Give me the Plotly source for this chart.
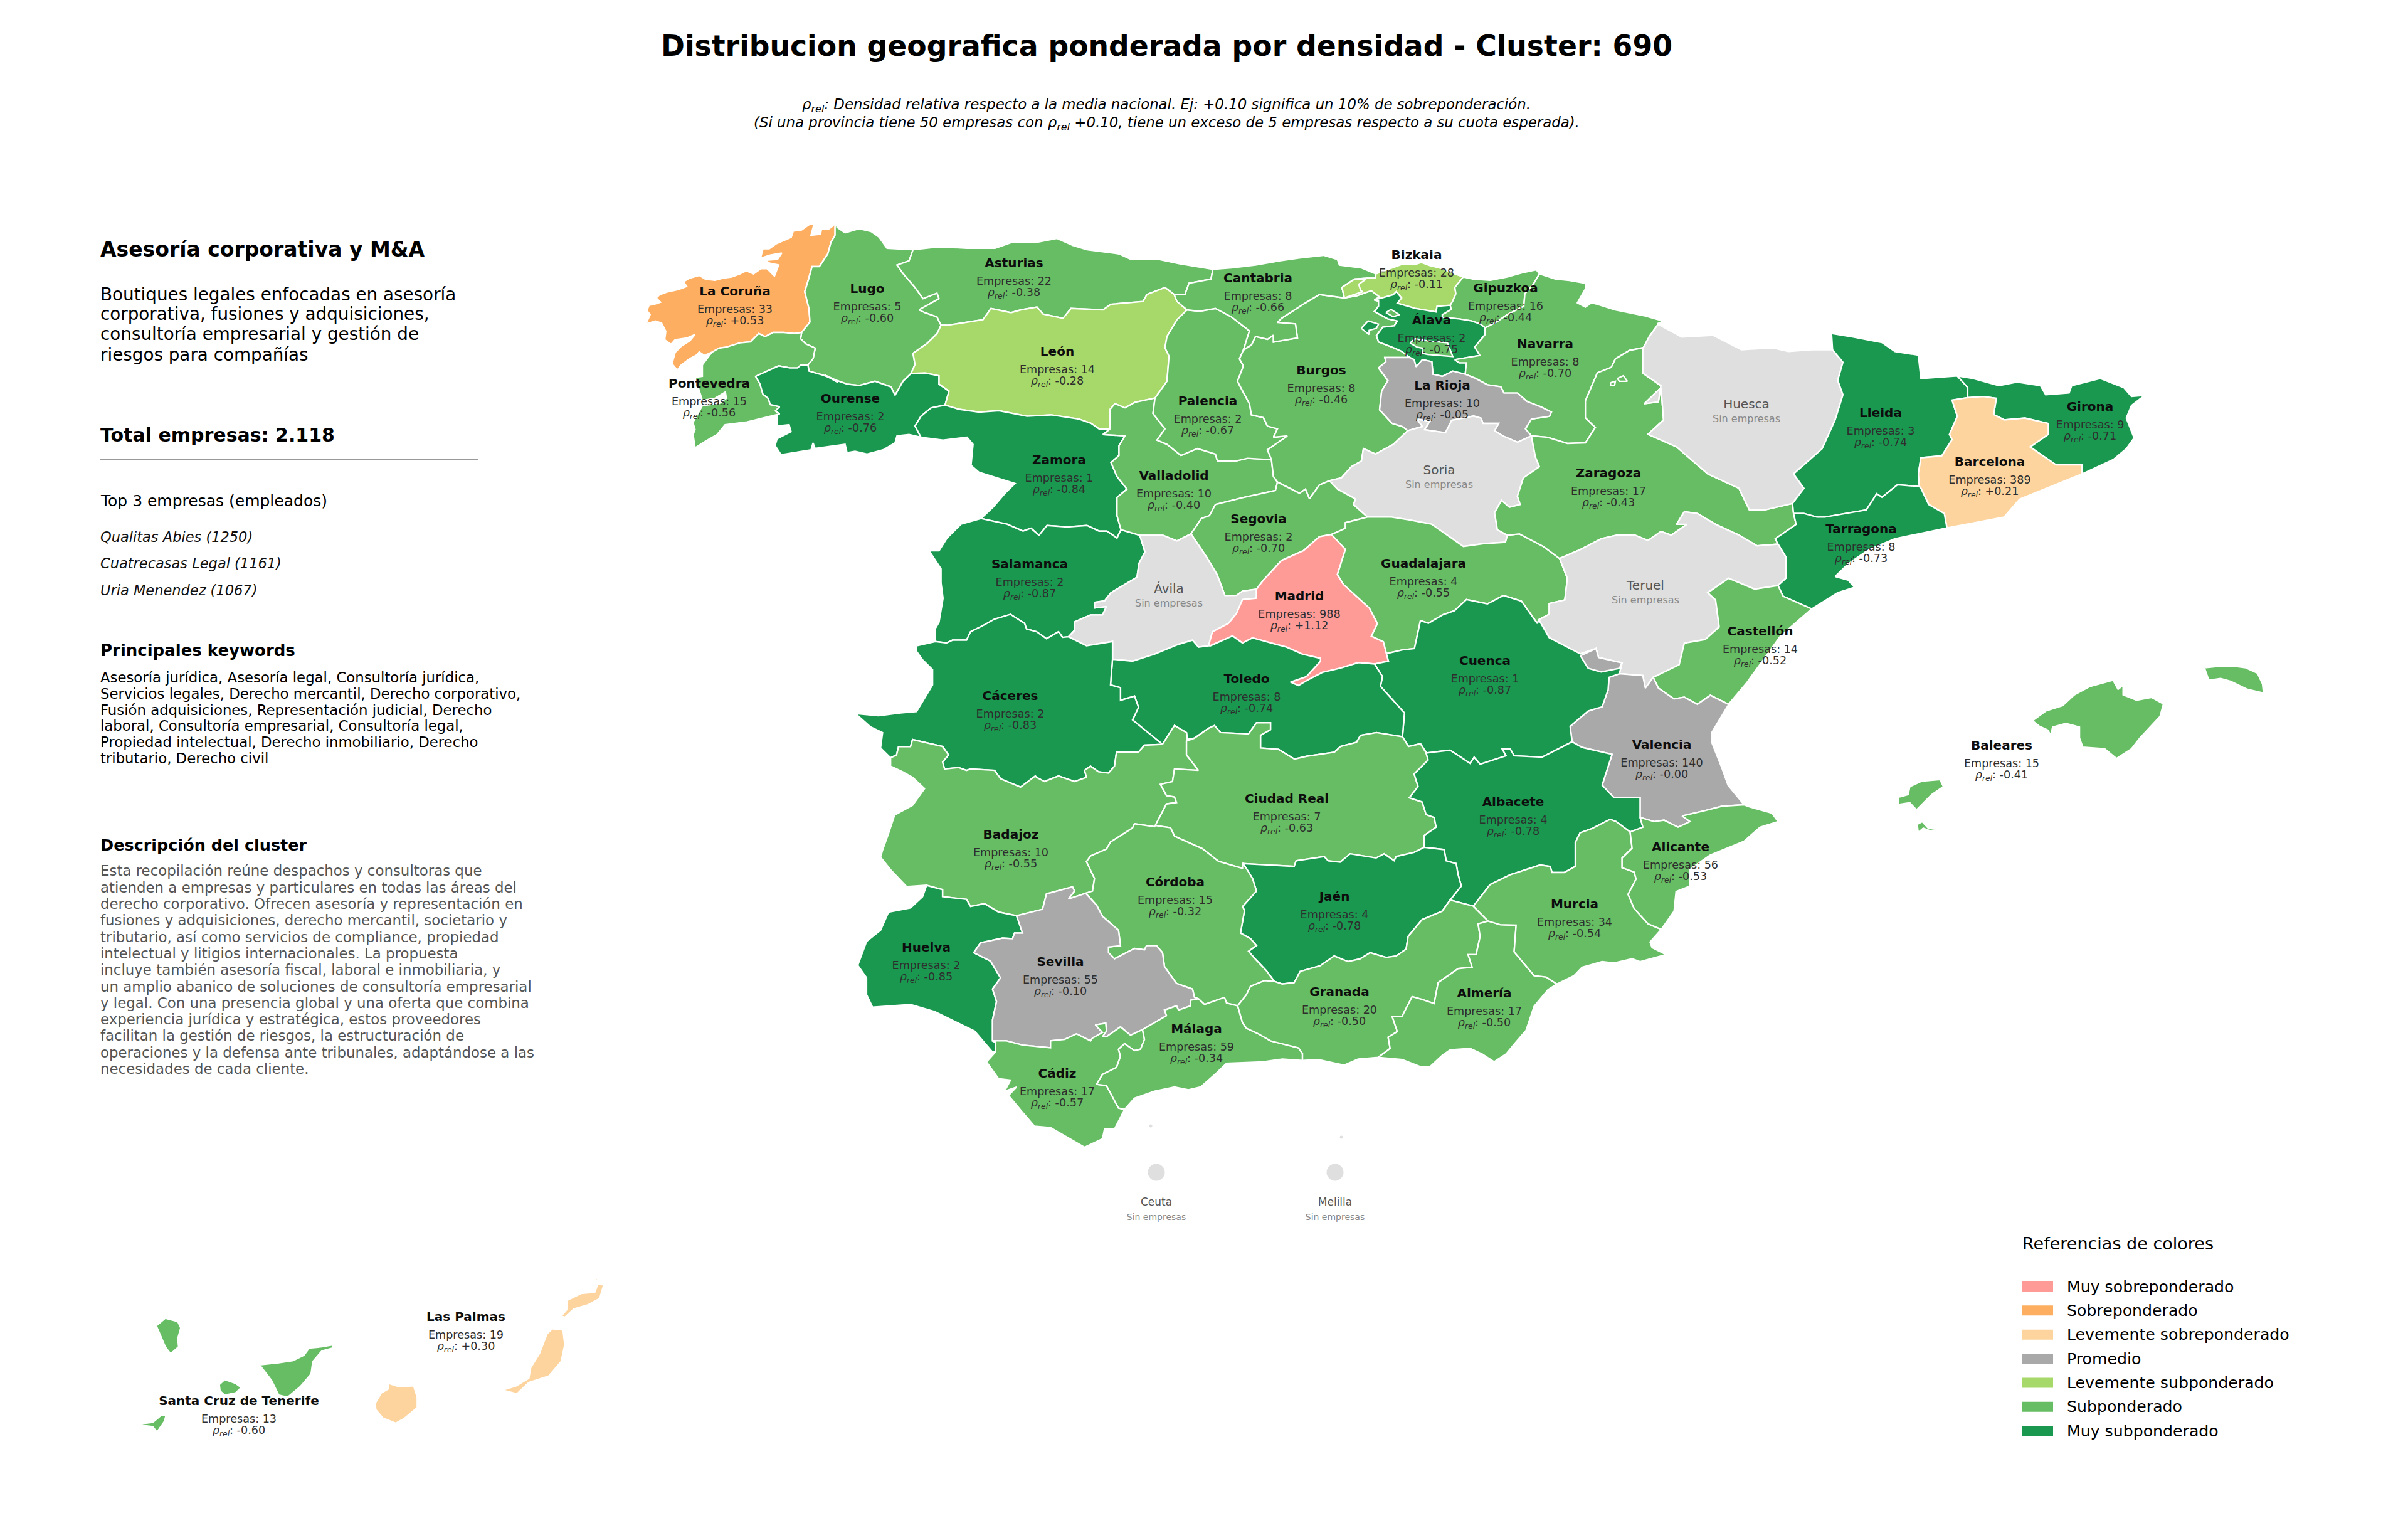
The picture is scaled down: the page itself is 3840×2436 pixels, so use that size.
import plotly.graph_objects as go

def crop(x0, y0, w, h):
    def read(*v):
        return [(x0 + v[i] * w / 1568, y0 + v[i + 1] * h / 1568) for i in range(0, len(v), 2)]
    return read

a = crop(1000, 340, 1000, 700)
b = crop(1900, 340, 1000, 700)
c = crop(2400, 480, 1300, 900)
d = crop(1350, 900, 1000, 700)
e = crop(1350, 1300, 1000, 700)
f = crop(2000, 1100, 1000, 700)
k = crop(100, 1300, 900, 1050)
l = crop(3000, 1000, 840, 1350)
m = crop(1020, 345, 1568 / 3, 1568 / 3)
n = crop(2120, 400, 1568 / 3, 1568 / 3)

# Datos
PROVINCIAS = ["La Coruña", "Lugo", "Asturias", "Cantabria", "Bizkaia", "Gipuzkoa", "Álava", "Navarra", "La Rioja",
              "Burgos", "León", "Pontevedra", "Ourense", "Palencia", "Zamora", "Valladolid", "Segovia", "Soria",
              "Huesca", "Lleida", "Girona", "Barcelona", "Zaragoza", "Tarragona", "Salamanca", "Ávila", "Madrid",
              "Guadalajara", "Teruel", "Castellón", "Cáceres", "Toledo", "Cuenca", "Valencia", "Baleares",
              "Ciudad Real", "Albacete", "Badajoz", "Córdoba", "Jaén", "Alicante", "Murcia", "Huelva", "Sevilla",
              "Granada", "Almería", "Málaga", "Cádiz", "Las Palmas", "Santa Cruz de Tenerife"]
EMPRESAS = [33, 5, 22, 8, 28, 16, 2, 8, 10,
            8, 14, 15, 2, 2, 1, 10, 2, None,
            None, 3, 9, 389, 17, 8, 2, None, 988,
            4, None, 14, 2, 8, 1, 140, 15,
            7, 4, 10, 15, 4, 56, 34, 2, 55,
            20, 17, 59, 17, 19, 13]
RHO = ["+0.53", "-0.60", "-0.38", "-0.66", "-0.11", "-0.44", "-0.75", "-0.70", "-0.05",
       "-0.46", "-0.28", "-0.56", "-0.76", "-0.67", "-0.84", "-0.40", "-0.70", None,
       None, "-0.74", "-0.71", "+0.21", "-0.43", "-0.73", "-0.87", None, "+1.12",
       "-0.55", None, "-0.52", "-0.83", "-0.74", "-0.87", "-0.00", "-0.41",
       "-0.63", "-0.78", "-0.55", "-0.32", "-0.78", "-0.53", "-0.54", "-0.85", "-0.10",
       "-0.50", "-0.50", "-0.34", "-0.57", "+0.30", "-0.60"]
LABEL_X = [1172, 1383, 1617, 2006, 2259, 2401, 2283, 2464, 2300,
           2107, 1686, 1131, 1356, 1926, 1689, 1872, 2007, 2295,
           2785, 2999, 3333, 3173, 2565, 2968, 1642, 1864, 2072,
           2270, 2624, 2807, 1611, 1988, 2368, 2650, 3192,
           2052, 2413, 1612, 1874, 2128, 2680, 2511, 1477, 1691,
           2136, 2367, 1908, 1686, 743, 381]
LABEL_Y = [466, 462, 421, 445, 408, 461, 512, 550, 616,
           592, 562, 613, 637, 641, 735, 760, 829, 751,
           646, 660, 650, 738, 756, 845, 901, 940, 952,
           900, 935, 1008, 1111, 1084, 1055, 1189, 1190,
           1275, 1280, 1332, 1408, 1431, 1352, 1443, 1512, 1535,
           1583, 1585, 1642, 1713, 2101, 2235]
SIN_DATOS_PEQ = ["Ceuta", "Melilla"]
PEQ_X = [1844, 2129]
PEQ_Y = [1869, 1869]
PEQ_LABEL_Y = [1918, 1918]
PEQ_REAL_X = [1835, 2139]
PEQ_REAL_Y = [1795, 1813]

CATEGORIAS = ["Muy sobreponderado", "Sobreponderado", "Levemente sobreponderado", "Promedio",
              "Levemente subponderado", "Subponderado", "Muy subponderado"]
COLORES = ["#FF9B97", "#FDAE61", "#FDD49E", "#A9A9A9", "#A6D96A", "#66BD63", "#1A9850"]
SIN_EMPRESAS = "#DFDFDF"

TITULO = "Distribucion geografica ponderada por densidad - Cluster: 690"
NOTA = ["<i>ρ<sub>rel</sub>: Densidad relativa respecto a la media nacional. Ej: +0.10 significa un 10% de sobreponderación.</i>",
        "<i>(Si una provincia tiene 50 empresas con ρ<sub>rel</sub> +0.10, tiene un exceso de 5 empresas respecto a su cuota esperada).</i>"]
CLUSTER = "Asesoría corporativa y M&A"
RESUMEN = ["Boutiques legales enfocadas en asesoría", "corporativa, fusiones y adquisiciones,",
           "consultoría empresarial y gestión de", "riesgos para compañías"]
TOTAL = "Total empresas: 2.118"
TOP = ["Qualitas Abies (1250)", "Cuatrecasas Legal (1161)", "Uria Menendez (1067)"]
KEYWORDS = ["Asesoría jurídica, Asesoría legal, Consultoría jurídica,",
            "Servicios legales, Derecho mercantil, Derecho corporativo,",
            "Fusión adquisiciones, Representación judicial, Derecho",
            "laboral, Consultoría empresarial, Consultoría legal,",
            "Propiedad intelectual, Derecho inmobiliario, Derecho",
            "tributario, Derecho civil"]
DESCRIPCION = ["Esta recopilación reúne despachos y consultoras que",
               "atienden a empresas y particulares en todas las áreas del",
               "derecho corporativo. Ofrecen asesoría y representación en",
               "fusiones y adquisiciones, derecho mercantil, societario y",
               "tributario, así como servicios de compliance, propiedad",
               "intelectual y litigios internacionales. La propuesta",
               "incluye también asesoría fiscal, laboral e inmobiliaria, y",
               "un amplio abanico de soluciones de consultoría empresarial",
               "y legal. Con una presencia global y una oferta que combina",
               "experiencia jurídica y estratégica, estos proveedores",
               "facilitan la gestión de riesgos, la estructuración de",
               "operaciones y la defensa ante tribunales, adaptándose a las",
               "necesidades de cada cliente."]

# Tramos de frontera compartidos entre provincias
ARCS = {
    "lc_coast": m(945,30, 925,45, 905,60, 870,62, 865,85, 820,90, 835,35, 810,40, 775,65, 735,70, 725,100, 690,115, 655,130, 620,155, 590,155, 578,200, 625,185, 680,175, 660,205, 600,210, 625,225, 665,232, 645,285, 610,250, 580,250, 545,275, 510,260, 480,275, 440,290, 400,295, 360,305, 315,300, 285,282, 240,295, 210,312, 225,335, 185,350, 130,362, 95,375, 80,390, 100,410, 70,420, 45,425, 35,450, 50,470, 30,515, 75,500, 105,510, 125,550, 120,590, 150,612, 170,590, 225,582, 265,565, 240,595, 200,620, 170,650, 155,705, 180,735, 200,710, 240,680, 270,665, 285,648, 310,665, 345,650),
    "lc_pon": m(345,650, 380,630, 415,625, 480,605, 530,600, 570,560, 600,575, 640,555, 690,555, 740,560, 775,555),
    "lc_lu": m(775,555, 815,505, 810,440, 790,360, 810,295, 825,240, 860,240, 900,180, 915,125, 935,90, 935,50, 945,30),
    "pon_coast": m(345,650, 300,710, 300,765, 265,770, 270,785, 290,850, 300,880, 360,870, 410,840, 415,870, 380,895, 300,905, 255,985, 265,1020) + a(165,790, 170,838, 195,815, 225,790, 245,755, 300,745, 345,730, 375,720),
    "pon_ou": a(375,720) + m(670,945, 650,930, 670,910, 625,900, 615,870, 590,850, 575,800, 555,765, 620,735, 665,715, 720,725, 755,725, 770,712, 805,710),
    "pon_lu": m(805,710, 830,680, 840,630, 795,610, 770,585, 775,555),
    "ou_port": a(375,720, 375,760, 405,755, 410,780, 375,805, 370,830, 385,862, 460,845, 465,820, 470,840, 545,825, 550,855, 570,850, 600,860, 640,845, 670,820, 675,795, 705,790, 735,800),
    "ou_za": a(735,800, 720,760, 735,725, 760,695, 795,685),
    "ou_le": a(795,685, 805,635, 780,610, 780,580, 745,570, 710,572),
    "lu_ou": a(710,572, 690,600, 670,650, 660,620, 620,600, 580,615, 550,610, 520,595, 495,578) + m(950,795, 905,770, 880,760, 810,740, 805,710),
    "lu_le": a(710,572, 720,540, 715,500, 750,465, 775,430, 785,400),
    "lu_ast": a(785,400, 775,370, 745,355, 730,345, 780,305, 775,285, 740,305, 720,265, 690,215, 675,185, 705,170, 715,130),
    "lu_coast": a(715,130, 650,125, 630,85, 610,65, 580,55, 545,70, 525,50) + m(945,30),
    "ast_coast": a(715,130, 780,120, 850,125, 920,125, 960,105, 1020,105, 1075,90, 1115,115, 1150,130, 1230,145, 1260,165, 1330,165, 1380,180, 1440,195, 1465,200),
    "ast_can": a(1465,200, 1460,235, 1405,250, 1395,290, 1368,290),
    "ast_le": a(1368,290, 1345,265, 1300,290, 1290,315, 1210,325, 1190,345, 1110,340, 1090,375, 1040,360, 1025,335, 985,345, 960,355, 910,340, 890,380, 800,400, 785,400),
    "can_le": a(1368,290, 1375,315, 1400,345),
    "le_pal": a(1400,345, 1375,380, 1350,440, 1345,480, 1355,510, 1350,600, 1320,660),
    "le_vall": a(1320,660, 1270,675, 1245,695, 1220,680, 1208,700, 1208,770),
    "le_za": a(1208,770, 1180,770, 1160,750, 1130,735, 1060,720, 1000,725, 930,705, 880,710, 830,700, 795,685),
    "za_port": a(735,800, 790,810, 850,800, 865,825, 860,900, 880,925, 970,965, 945,1000, 915,1050, 885,1090),
    "za_sal": a(885,1090, 950,1110, 990,1135, 1010,1125, 1030,1150, 1050,1115, 1100,1120, 1150,1115, 1180,1135, 1200,1135, 1225,1160, 1235,1130),
    "za_vall": a(1208,770, 1190,790, 1245,795, 1230,830, 1230,865, 1210,890, 1225,940, 1250,985, 1225,1015, 1225,1080, 1235,1130),
    "sal_vall": a(1235,1130, 1282,1150),
    "sal_av": a(1282,1150, 1295,1210, 1280,1250, 1275,1300, 1210,1355) + d(645,130, 620,135, 620,155, 650,150, 640,180, 610,180, 570,205, 570,235, 555,258),
    "sal_cac": d(555,258, 540,260, 530,240, 500,265, 475,240, 450,230, 445,210, 410,178, 370,195, 345,215, 310,240, 300,270, 265,270, 250,280, 222,275),
    "sal_port": d(222,275) + a(770,1485, 780,1460, 790,1375, 785,1320, 785,1270, 755,1205, 780,1205, 800,1160, 835,1110, 885,1090),
    "av_vall": a(1282,1150, 1340,1150, 1375,1170, 1410,1145),
    "av_seg": a(1410,1145, 1450,1230, 1475,1290, 1495,1365) + d(975,110, 990,95, 1025,88),
    "av_mad": d(905,290, 915,240, 955,210, 975,175, 990,125, 1025,120, 1025,88),
    "av_tol": d(665,338, 715,345, 770,320, 830,285, 865,270, 880,295, 905,290),
    "av_cac": d(555,258, 600,290, 665,275, 665,338),
    "mad_seg": d(1025,88) + b(180,1310, 225,1240, 280,1205, 320,1155, 350,1147),
    "gu_mad": b(350,1147, 385,1200, 365,1290, 380,1325, 410,1365, 445,1410, 465,1465, 450,1510, 480,1530) + d(1350,318),
    "mad_cu": d(1350,318, 1355,345, 1320,355),
    "mad_tol": d(1320,355, 1280,350, 1235,370, 1190,385, 1150,415, 1130,432, 1110,420, 1150,400, 1185,345, 1185,335, 1140,320, 1100,295, 1060,280, 1015,262, 990,280, 965,255, 910,290, 905,290),
    "gu_cu": d(1350,318, 1390,305, 1420,300, 1435,200, 1455,210, 1490,180, 1520,165, 1550,125) + b(740,1395, 780,1365, 825,1385, 865,1465),
    "gu_te": c(105,715, 120,770, 115,830, 85,840, 85,870, 65,885),
    "gu_zar": c(105,715) + b(880,1190, 820,1145, 790,1150),
    "gu_so": b(790,1150, 785,1175, 730,1180, 680,1190, 640,1150, 600,1110, 545,1095, 500,1085, 440,1085),
    "gu_seg": b(440,1085, 385,1105, 385,1125, 350,1147),
    "seg_vall": a(1410,1145) + b(25,1090, 45,1080, 60,1040, 130,1015, 210,990, 215,960),
    "seg_bur": b(215,960, 270,1000, 285,985, 295,1020, 320,970, 345,955),
    "seg_so": b(345,955, 365,985, 410,1020, 405,1040, 440,1085),
    "bur_so": b(345,955, 375,945, 400,905, 425,885, 430,840, 460,860, 505,825) + n(375,860),
    "so_ri": n(375,860, 445,840, 420,805, 480,815, 455,855, 555,870, 585,810, 690,790, 725,800, 735,825, 810,825, 790,860, 830,885, 900,915) + b(850,795),
    "so_zar": b(850,795, 860,870, 870,905, 830,945, 815,1010, 822,1040, 795,1050, 775,1025, 758,1070, 765,1130, 790,1150),
    "bur_ri": n(375,860, 350,840, 300,825, 240,760, 250,670, 280,620, 235,560, 270,530, 265,510, 385,510),
    "al_ri": n(385,510, 405,520, 415,555, 445,520, 490,530, 495,590, 540,600, 590,575, 650,590),
    "ri_nav": n(650,590, 700,610, 755,640, 820,650, 835,680, 900,680, 945,720, 1010,745) + b(900,710, 895,725, 850,735, 835,770, 850,795),
    "nav_zar": b(850,795, 890,800, 940,822, 985,820, 1010,765, 985,730, 985,670, 1015,570, 1050,550, 1060,520, 1095,490, 1130,480),
    "nav_hu": b(1130,480, 1145,440, 1165,400, 1180,385),
    "nav_coast": n(1005,110) + b(910,235, 945,240, 985,250, 985,270, 965,320, 985,335, 1000,320, 1015,325, 1060,345, 1130,365, 1180,385),
    "gip_coast": n(640,125, 690,135, 770,140, 850,125, 920,105, 990,90, 1005,110),
    "gip_nav": n(745,368, 800,340, 850,305, 930,265, 935,205, 975,160, 1005,110),
    "gip_al": n(578,260, 582,280, 540,305, 540,318, 620,325, 680,335, 722,350, 745,368),
    "gip_biz": n(578,260, 590,240, 605,205, 600,175, 640,125),
    "biz_coast": n(640,125, 600,110, 540,85, 480,70, 440,55, 410,65, 345,65, 290,85, 222,110),
    "biz_can": n(222,110, 220,130, 180,130, 120,135, 60,175, 72,225),
    "biz_bur": n(72,225, 130,215, 200,190, 240,220, 215,235),
    "biz_al": n(215,235, 305,210, 320,195, 345,225, 325,250, 410,275, 510,292, 515,265, 578,260),
    "bur_al": n(385,510, 345,480, 300,460, 235,435, 225,405, 255,365, 310,358, 325,335, 280,325, 215,290, 235,265, 235,240, 215,235),
    "al_nav": n(745,368, 745,400, 720,430, 695,460, 720,500, 660,510, 600,520, 620,535, 655,535, 650,590),
    "can_coast": a(1465,200) + b(100,195, 160,185, 220,170, 270,160, 330,150, 365,165, 370,185, 425,195) + n(222,110),
    "can_bur": n(72,225) + b(320,290, 285,320, 225,375, 215,390, 260,395, 265,445, 205,460, 205,435, 190,450, 160,440, 150,470, 130,488),
    "can_pal": b(130,488, 145,420, 100,370, 60,340, 20,350) + a(1400,345),
    "bur_pal": b(130,488, 120,520, 130,545, 115,600, 145,680, 150,720, 180,730, 190,760, 215,770, 205,800, 240,795, 190,845, 200,880),
    "bur_vall": b(200,880, 205,940, 215,960),
    "pal_vall": b(200,880, 140,875, 110,885, 65,885, 60,860, 15,840) + a(1385,865, 1350,825, 1325,810, 1345,770, 1315,715, 1320,660),
    "zar_hu": c(553,562, 500,580, 470,580, 450,520, 390,480, 330,405, 275,370, 305,330, 300,240, 268,285, 295,280, 300,235, 265,200, 265,140) + b(1130,480),
    "hu_north": c(293,63, 340,100, 400,95, 455,135, 515,130, 545,140, 590,135, 630,135),
    "hu_lle": c(630,135, 650,170, 640,220, 650,260, 635,330, 610,410, 555,480, 575,520, 553,562),
    "lle_north": c(630,135, 628,90, 670,100, 725,115, 750,140, 795,150, 800,215, 860,210, 870,208),
    "lle_gi": c(870,208, 890,240, 890,268),
    "lle_ba": c(890,268, 860,275, 870,320, 855,370, 860,385, 840,430, 800,435, 795,480, 797,515),
    "lle_tar": c(797,515, 755,510, 725,545, 715,535, 695,580, 615,600, 600,600, 575,590, 555,590),
    "zar_lle": c(553,562, 555,590),
    "zar_tar": c(555,590, 560,620, 520,660, 525,675),
    "zar_te": c(525,675, 485,680, 450,650, 405,620, 370,590, 345,585, 330,620, 350,620, 320,650, 300,640, 275,665, 250,650, 215,650, 185,660, 145,690, 105,715),
    "te_cu": c(65,885, 85,935, 145,980, 175,965, 180,990, 225,1005, 220,1035),
    "te_val": c(220,1035, 265,1040, 270,1075, 285,1045),
    "te_cas": c(285,1045, 335,1010, 345,950, 385,940, 412,905, 405,830, 390,810, 430,770, 480,800, 525,790),
    "te_tar": c(525,790, 540,770, 540,710, 525,675),
    "cas_val": c(285,1045, 295,1075, 325,1105, 345,1100, 370,1120, 395,1095, 430,1120),
    "cas_coast": c(430,1120, 465,1060, 495,1000, 530,930, 590,855),
    "tar_cas": c(590,855, 535,820, 525,790),
    "tar_coast": c(590,855, 640,810, 672,795, 660,775, 635,765, 660,730, 700,690, 750,660, 800,645, 850,630),
    "ba_tar": c(850,630, 845,590, 815,565, 800,520, 797,515),
    "ba_coast": c(850,630, 960,600, 990,550, 1050,515, 1110,480),
    "ba_gi": c(1110,480, 1110,455, 1060,455, 1020,415, 1010,405, 1045,370, 1045,340, 1000,325, 960,330, 940,315, 945,270, 920,265, 890,268),
    "gi_coast": c(870,208, 900,215, 950,235, 985,225, 1030,235, 1040,260, 1085,255, 1090,235, 1145,215, 1190,240, 1205,265, 1230,262, 1205,290, 1195,325, 1210,380, 1195,410, 1170,440, 1110,480),
    "tol_cu": d(1320,355, 1340,400, 1335,435, 1370,490, 1395,530, 1390,615),
    "cu_cr": d(1390,615, 1405,650, 1435,640, 1450,672),
    "cu_alb": f(430,225, 490,215, 540,262, 550,240, 565,265, 630,235, 620,210, 640,210, 650,235, 720,240, 795,185),
    "cu_val": f(795,185, 790,130, 835,75, 870,60, 885,0) + c(200,1045, 220,1035),
    "alb_val": f(795,185, 820,205, 895,230, 870,340, 900,385, 965,385, 965,455),
    "alb_alic": f(965,455, 972,490, 940,507),
    "alb_mur": f(940,507, 905,470, 890,462, 845,495, 815,510, 803,545, 803,630, 775,652, 745,652, 740,630, 715,625, 640,660, 590,695, 548,772),
    "alb_gra": f(548,772, 490,750),
    "alb_ja": f(490,750, 518,700, 510,660, 505,620, 480,610, 475,570, 425,562),
    "alb_cr": f(425,562, 425,520, 455,490, 450,455, 430,445, 420,400, 388,385, 410,345, 400,300, 435,250, 430,225),
    "cr_ja": f(425,562, 400,580, 355,595, 350,610, 325,585, 305,600, 240,585, 215,615, 185,610, 175,595, 105,610, 100,630) + d(990,1068),
    "cr_cor": d(990,1068, 990,1085, 930,1060, 890,1015, 820,970, 810,940, 772,932),
    "bad_cr": d(772,932, 800,855, 825,850, 820,830, 800,825, 785,785, 815,775, 820,730, 880,735, 850,680, 850,630, 870,620),
    "tol_cr": d(870,620, 905,585, 920,575, 935,600, 1005,605, 1025,565, 1060,565, 1060,590, 1035,610, 1035,655, 1080,660, 1120,695, 1150,685, 1220,670, 1235,650, 1275,635, 1285,610, 1325,600, 1390,615),
    "tol_bad": d(870,620, 852,625, 850,600, 820,575, 790,642),
    "tol_cac": d(665,338, 660,430, 685,440, 685,485, 720,470, 730,510, 715,555, 790,642),
    "cac_bad": d(790,642, 745,645, 730,670, 675,670, 670,720, 655,745, 630,740, 610,720, 595,735, 600,760, 570,775, 530,755, 495,775, 475,760, 472,755, 435,795, 385,765, 370,735, 310,730, 300,735, 280,725, 245,730, 240,705, 255,680, 240,650, 165,625, 160,650, 130,650, 125,680, 110,690),
    "cac_port": d(110,690, 85,655, 90,600, 60,580, 22,532, 80,540, 135,530, 175,525, 215,430, 215,375, 190,340, 175,310, 175,290, 222,275),
    "bad_port": d(110,690, 110,720, 140,740, 165,760, 195,800, 165,860, 120,895, 105,960, 90,1020, 85,1045, 110,1090, 150,1150, 200,1145),
    "bad_hu": e(200,250, 240,265, 240,290, 300,300, 310,325, 345,315, 380,345, 425,358),
    "bad_sev": e(425,358, 490,335, 500,280, 565,255, 570,270, 555,298, 598,278),
    "bad_cor": e(598,278, 615,270, 620,225, 600,165, 610,145, 650,120, 660,95, 715,45, 720,30, 770,40),
    "hu_coast": e(200,250, 190,290, 160,330, 105,345, 85,410, 50,450, 40,490, 28,535, 50,580, 50,640, 65,685, 160,675, 220,700, 320,770, 365,845, 372,845),
    "hu_cad": e(372,845, 372,810, 365,805),
    "hu_sev": e(365,805, 365,730, 375,665, 365,620, 385,580, 360,520, 318,490, 335,455, 390,438, 415,440, 420,420, 440,420, 430,375, 425,358),
    "sev_cor": e(598,278, 625,320, 640,360, 680,410, 685,465, 655,470, 655,490, 670,512, 720,475, 745,480, 750,465, 775,465, 790,490, 795,540, 825,600, 865,620, 870,650, 880,655),
    "sev_mal": e(880,655, 860,660, 860,680, 830,695, 825,680, 795,695, 800,715, 740,765),
    "sev_cad": e(740,765, 710,785, 685,755, 650,790, 640,790, 650,770, 648,742, 622,748, 640,775, 615,795, 610,805, 575,780, 545,800, 510,805, 510,830, 440,820, 400,805, 365,805),
    "cad_mal": e(740,765, 745,800, 735,835, 720,840, 695,815, 680,835, 685,860, 675,900, 640,925, 625,960, 650,965, 680,1045, 695,1050),
    "cad_coast": e(372,845, 350,880, 380,940, 410,945, 395,985, 425,970, 405,1000, 440,1060, 470,1110, 510,1115, 595,1185, 640,1155, 645,1120, 670,1120, 695,1050),
    "mal_coast": e(695,1050, 720,1010, 770,985, 820,970, 855,980, 885,970, 925,920, 950,885, 1040,880, 1090,870, 1140,875),
    "mal_gra": e(1140,875, 1140,850, 1130,830, 1060,805, 1030,780, 1000,760, 990,740, 978,680),
    "cor_mal": e(978,680, 950,670, 945,650, 925,660, 895,675, 880,655),
    "cor_gra": e(978,680, 1000,640, 1010,610, 1045,590, 1070,593),
    "cor_ja": e(1070,593, 1050,555, 1020,510, 1005,485, 1025,465, 1010,440, 985,420, 995,340, 990,325, 1025,270, 1015,225, 1000,190, 990,170),
    "ja_gra": f(490,750, 470,790, 420,820, 385,880, 380,925, 355,950, 330,955, 290,938, 265,960, 235,970, 200,950, 165,985, 115,1005, 100,1045, 70,1050) + e(1070,593),
    "gra_mur": f(548,772, 585,825),
    "gra_alm": f(585,825, 560,835, 565,880, 555,945, 535,945, 545,990, 510,995, 460,1045, 450,1120, 420,1105, 395,1095, 370,1165, 345,1165, 358,1220, 335,1240, 340,1280, 310,1312),
    "gra_coast": e(1140,875) + f(160,1320, 225,1340, 260,1318, 310,1312),
    "alm_coast": f(310,1312, 370,1320, 415,1345, 440,1345, 470,1305, 490,1285, 540,1280, 570,1300, 600,1328, 630,1300, 650,1265, 680,1215, 700,1130, 735,1070, 757,1050),
    "alm_mur": f(757,1050, 730,1025, 700,1020, 650,935, 655,840, 615,838, 585,825),
    "mur_coast": f(757,1050, 800,1020, 820,990, 870,970, 900,975, 945,960, 965,970, 1030,945, 995,920, 990,900, 1018,855),
    "mur_alic": f(1018,855, 985,835, 950,780, 935,730, 955,675, 950,650, 920,635, 920,600, 945,565, 940,507),
    "val_alic": f(965,455, 1000,470, 1025,465, 1060,490, 1090,470, 1070,450, 1130,430, 1170,415, 1225,410),
    "val_coast": f(1225,410, 1185,340, 1170,280, 1145,190, 1145,150, 1185,55) + c(430,1120),
    "alic_coast": f(1225,410, 1240,418, 1295,440, 1310,470, 1265,490, 1225,540, 1140,590, 1090,640, 1090,700, 1055,720, 1050,790, 1018,855),
}

RINGS = {
    "La Coruña": ["lc_coast", "lc_pon", "lc_lu"],
    "Lugo": ["lc_lu", "lu_coast", "lu_ast", "lu_le", "lu_ou", "pon_lu"],
    "Pontevedra": ["pon_coast", "pon_ou", "pon_lu", "lc_pon"],
    "Ourense": ["ou_port", "ou_za", "ou_le", "lu_ou", "pon_ou"],
    "Asturias": ["ast_coast", "ast_can", "ast_le", "lu_ast"],
    "León": ["ast_le", "lu_le", "ou_le", "le_za", "le_vall", "le_pal", "can_le"],
    "Zamora": ["ou_za", "za_port", "za_sal", "za_vall", "le_za"],
    "Salamanca": ["za_sal", "sal_vall", "sal_av", "sal_cac", "sal_port"],
    "Valladolid": ["le_vall", "pal_vall", "bur_vall", "seg_vall", "av_vall", "sal_vall", "za_vall"],
    "Palencia": ["le_pal", "can_pal", "bur_pal", "pal_vall"],
    "Burgos": ["biz_bur", "bur_al", "bur_ri", "bur_so", "seg_bur", "bur_vall", "bur_pal", "can_bur"],
    "Cantabria": ["can_coast", "biz_can", "can_bur", "can_pal", "can_le", "ast_can"],
    "Bizkaia": ["biz_coast", "biz_can", "biz_bur", "biz_al", "gip_biz"],
    "Gipuzkoa": ["gip_coast", "gip_nav", "gip_al", "gip_biz"],
    "Álava": ["biz_al", "gip_al", "al_nav", "al_ri", "bur_al"],
    "Navarra": ["nav_coast", "nav_hu", "nav_zar", "ri_nav", "al_nav", "gip_nav"],
    "La Rioja": ["al_ri", "ri_nav", "so_ri", "bur_ri"],
    "Soria": ["bur_so", "so_ri", "so_zar", "gu_so", "seg_so"],
    "Segovia": ["seg_vall", "seg_bur", "seg_so", "gu_seg", "mad_seg", "av_seg"],
    "Ávila": ["sal_av", "av_vall", "av_seg", "av_mad", "av_tol", "av_cac"],
    "Madrid": ["mad_seg", "gu_mad", "mad_cu", "mad_tol", "av_mad"],
    "Guadalajara": ["gu_seg", "gu_so", "gu_zar", "gu_te", "gu_cu", "gu_mad"],
    "Zaragoza": ["so_zar", "nav_zar", "zar_hu", "zar_lle", "zar_tar", "zar_te", "gu_zar"],
    "Huesca": ["hu_north", "hu_lle", "zar_hu", "nav_hu"],
    "Lleida": ["lle_north", "lle_gi", "lle_ba", "lle_tar", "zar_lle", "hu_lle"],
    "Girona": ["gi_coast", "ba_gi", "lle_gi"],
    "Barcelona": ["lle_ba", "ba_tar", "ba_coast", "ba_gi"],
    "Tarragona": ["lle_tar", "ba_tar", "tar_coast", "tar_cas", "te_tar", "zar_tar"],
    "Teruel": ["zar_te", "gu_te", "te_cu", "te_val", "te_cas", "te_tar"],
    "Castellón": ["te_cas", "tar_cas", "cas_coast", "cas_val"],
    "Valencia": ["te_val", "cas_val", "val_coast", "val_alic", "alb_val", "cu_val"],
    "Cuenca": ["gu_cu", "te_cu", "cu_val", "cu_alb", "cu_cr", "tol_cu", "mad_cu"],
    "Toledo": ["av_tol", "mad_tol", "tol_cu", "tol_cr", "tol_bad", "tol_cac"],
    "Cáceres": ["av_cac", "tol_cac", "cac_bad", "cac_port", "sal_cac"],
    "Badajoz": ["cac_bad", "tol_bad", "bad_cr", "bad_cor", "bad_sev", "bad_hu", "bad_port"],
    "Ciudad Real": ["tol_cr", "cu_cr", "alb_cr", "cr_ja", "cr_cor", "bad_cr"],
    "Albacete": ["cu_alb", "alb_val", "alb_alic", "alb_mur", "alb_gra", "alb_ja", "alb_cr"],
    "Jaén": ["cr_ja", "alb_ja", "ja_gra", "cor_ja"],
    "Córdoba": ["cr_cor", "cor_ja", "cor_gra", "cor_mal", "sev_cor", "bad_cor"],
    "Huelva": ["bad_hu", "hu_sev", "hu_cad", "hu_coast"],
    "Sevilla": ["bad_sev", "sev_cor", "sev_mal", "sev_cad", "hu_sev"],
    "Cádiz": ["sev_cad", "cad_mal", "cad_coast", "hu_cad"],
    "Málaga": ["sev_mal", "cor_mal", "mal_gra", "mal_coast", "cad_mal"],
    "Granada": ["cor_gra", "ja_gra", "alb_gra", "gra_mur", "gra_alm", "gra_coast", "mal_gra"],
    "Almería": ["gra_alm", "alm_coast", "alm_mur"],
    "Murcia": ["alb_mur", "mur_alic", "mur_coast", "alm_mur", "gra_mur"],
    "Alicante": ["alb_alic", "val_alic", "alic_coast", "mur_alic"],
}

# Islas y enclaves, se pintan al final
EXTRA = [
    ("Burgos", n(385,440, 410,420, 470,430, 530,435, 565,440, 590,505, 470,495, 445,490, 445,465, 420,460)),
    ("Burgos", n(270,295, 295,280, 335,305, 305,315)),
    ("Álava", n(152,370, 185,335, 235,350, 225,370, 190,380, 190,400)),
    ("Bizkaia", n(60,175, 120,135, 175,135, 140,160, 150,190, 160,195, 72,225)),
    ("Navarra", b(1065,590, 1080,580, 1090,600, 1070,600)),
    ("Navarra", b(1048,605, 1060,600, 1058,615, 1048,615)),
    ("Valencia", c(145,985, 175,965, 180,990, 225,1005, 220,1020, 185,1030, 160,1020)),
    ("Baleares", l(450,173, 490,155, 540,145, 575,125, 620,110, 690,98, 705,115, 745,95, 720,105, 720,125, 760,135, 805,130, 840,142, 830,165, 800,185, 770,205, 745,225, 700,243, 665,225, 600,222, 590,205, 590,185, 550,178, 510,185, 505,200, 495,190, 470,183)),
    ("Baleares", l(962,75, 1010,72, 1050,72, 1085,75, 1120,85, 1135,105, 1138,122, 1090,115, 1040,100, 1010,95, 975,98)),
    ("Baleares", l(50,315, 80,310, 85,295, 120,285, 175,282, 185,295, 150,310, 105,338, 85,325, 52,328)),
    ("Baleares", l(107,365, 122,360, 140,372, 172,375, 150,378, 125,372, 110,380)),
    ("Baleares", l(650,272, 660,270, 660,274)),
    ("Santa Cruz de Tenerife", k(260,1215, 285,1197, 320,1205, 328,1220, 320,1245, 322,1265, 300,1282, 285,1265, 270,1235)),
    ("Santa Cruz de Tenerife", k(435,1355, 450,1343, 480,1352, 496,1362, 480,1375, 450,1380, 437,1370)),
    ("Santa Cruz de Tenerife", k(547,1308, 600,1303, 640,1298, 670,1285, 685,1268, 720,1265, 752,1260, 750,1268, 720,1275, 695,1300, 690,1330, 660,1360, 625,1385, 600,1380, 580,1345)),
    ("Santa Cruz de Tenerife", k(220,1448, 250,1445, 275,1427, 287,1428, 283,1442, 262,1468, 250,1455, 222,1452)),
    ("Las Palmas", k(868,1400, 885,1375, 905,1365, 905,1352, 935,1360, 975,1358, 985,1385, 985,1410, 950,1435, 925,1447, 890,1435, 870,1415)),
    ("Las Palmas", k(1222,1368, 1260,1358, 1295,1340, 1300,1315, 1325,1280, 1345,1235, 1360,1222, 1390,1225, 1395,1260, 1385,1300, 1350,1335, 1295,1350, 1262,1377)),
    ("Las Palmas", k(1385,1192, 1402,1175, 1400,1155, 1440,1138, 1478,1135, 1487,1115, 1503,1118, 1492,1150, 1460,1165, 1420,1175, 1395,1195)),
    ("Las Palmas", k(1477,1108, 1485,1100, 1488,1108)),
]


def dist(p, q):
    return (p[0] - q[0]) ** 2 + (p[1] - q[1]) ** 2


def build_ring(names):
    # encadena los tramos girando cada uno para que empiece donde acabo el anterior
    first = ARCS[names[0]]
    nxt = ARCS[names[1]]
    gap_end = min(dist(first[-1], nxt[0]), dist(first[-1], nxt[-1]))
    gap_start = min(dist(first[0], nxt[0]), dist(first[0], nxt[-1]))
    ring = list(first) if gap_end <= gap_start else list(first[::-1])
    for name in names[1:]:
        arc = ARCS[name]
        if dist(ring[-1], arc[0]) > dist(ring[-1], arc[-1]):
            arc = arc[::-1]
        ring += arc
    return ring + ring[:1]


def categoria(rho):
    v = float(rho)
    if v > 1:
        return 0
    if v > 0.5:
        return 1
    if v > 0.1:
        return 2
    if v >= -0.10:
        return 3
    if v >= -0.30:
        return 4
    if v >= -0.70:
        return 5
    return 6


def color_de(nombre):
    rho = RHO[PROVINCIAS.index(nombre)]
    return SIN_EMPRESAS if rho is None else COLORES[categoria(rho)]


def add_polygon(fig, pts, nombre):
    fig.add_trace(go.Scatter(x=[p[0] for p in pts], y=[p[1] for p in pts], mode="lines", fill="toself",
                             fillcolor=color_de(nombre), line=dict(color="white", width=2.4),
                             name=nombre, hoverinfo="name", showlegend=False))


FONT = "DejaVu Sans"
fig = go.Figure()

for nombre, arcs in RINGS.items():
    add_polygon(fig, build_ring(arcs), nombre)
for nombre, pts in EXTRA:
    add_polygon(fig, pts + pts[:1], nombre)

# Ceuta y Melilla
fig.add_trace(go.Scatter(x=PEQ_X, y=PEQ_Y, mode="markers", showlegend=False, hoverinfo="skip",
                         marker=dict(color=SIN_EMPRESAS, size=27, line=dict(width=0))))
fig.add_trace(go.Scatter(x=PEQ_REAL_X, y=PEQ_REAL_Y, mode="markers", showlegend=False, hoverinfo="skip",
                         marker=dict(color=SIN_EMPRESAS, size=5, line=dict(width=0))))


def text_trace(xs, ys, texts, size, color, weight="normal"):
    fig.add_trace(go.Scatter(x=xs, y=ys, mode="text", text=texts, textposition="middle center",
                             textfont=dict(family=FONT, size=size, color=color, weight=weight),
                             showlegend=False, hoverinfo="skip"))


con = [i for i, r in enumerate(RHO) if r is not None]
sin = [i for i, r in enumerate(RHO) if r is None]
text_trace([LABEL_X[i] for i in con], [LABEL_Y[i] for i in con], [PROVINCIAS[i] for i in con], 20, "#0d0d0d", "bold")
text_trace([LABEL_X[i] for i in con], [LABEL_Y[i] + 28.6 for i in con], ["Empresas: %d" % EMPRESAS[i] for i in con], 17.6, "#2e2e2e")
text_trace([LABEL_X[i] for i in con], [LABEL_Y[i] + 47 for i in con], ["<i>ρ<sub>rel</sub></i>: %s" % RHO[i] for i in con], 17.6, "#2e2e2e")
text_trace([LABEL_X[i] for i in sin], [LABEL_Y[i] for i in sin], [PROVINCIAS[i] for i in sin], 20, "#555555")
text_trace([LABEL_X[i] for i in sin], [LABEL_Y[i] + 23 for i in sin], ["Sin empresas"] * len(sin), 16, "#888888")
text_trace(PEQ_X, PEQ_LABEL_Y, SIN_DATOS_PEQ, 17, "#555555")
text_trace(PEQ_X, [y + 23 for y in PEQ_LABEL_Y], ["Sin empresas"] * 2, 14, "#888888")


def note(x, y, text, size, color="#000000", anchor="left"):
    fig.add_annotation(x=x, y=y, xref="x", yref="y", text=text, showarrow=False, xanchor=anchor, yanchor="middle",
                       font=dict(family=FONT, size=size, color=color))


note(1860, 73, "<b>%s</b>" % TITULO, 45.7, anchor="center")
note(1860, 168, NOTA[0], 22.85, anchor="center")
note(1860, 197, NOTA[1], 22.85, anchor="center")

note(158, 397, "<b>%s</b>" % CLUSTER, 33)
for y, t in zip([469, 500, 532.5, 565], RESUMEN):
    note(158, y, t, 27.8)
note(158, 693, "<b>%s</b>" % TOTAL, 30)
fig.add_shape(type="line", x0=159, x1=763, y0=732, y1=732, line=dict(color="#999999", width=2))
note(158, 798, "Top 3 empresas (empleados)", 25)
for y, t in zip([856, 898, 941], TOP):
    note(158, y, "<i>%s</i>" % t, 22.5, "#111111")
note(158, 1037, "<b>Principales keywords</b>", 26)
for i, t in enumerate(KEYWORDS):
    note(158, 1080 + i * 25.8, t, 22.8)
note(158, 1347, "<b>Descripción del cluster</b>", 25.5)
for i, t in enumerate(DESCRIPCION):
    note(158, 1388.4 + i * 26.3, t, 22.9, "#555555")

# Leyenda de colores
note(3223, 1982, "Referencias de colores", 27)
for i, (lab, col) in enumerate(zip(CATEGORIAS, COLORES)):
    y = 2051 + i * 38.35
    fig.add_shape(type="rect", x0=3225, x1=3274, y0=y - 8, y1=y + 8, fillcolor=col, line=dict(width=0))
    note(3294, y, lab, 25.2)

fig.update_xaxes(range=[0, 3840], visible=False, fixedrange=True)
fig.update_yaxes(range=[2436, 0], visible=False, fixedrange=True)
fig.update_layout(width=3840, height=2436, margin=dict(l=0, r=0, t=0, b=0), plot_bgcolor="white",
                  paper_bgcolor="white", showlegend=False)

fig.write_html("out.html", config={"displayModeBar": False}, post_script="document.body.style.margin='0';")
